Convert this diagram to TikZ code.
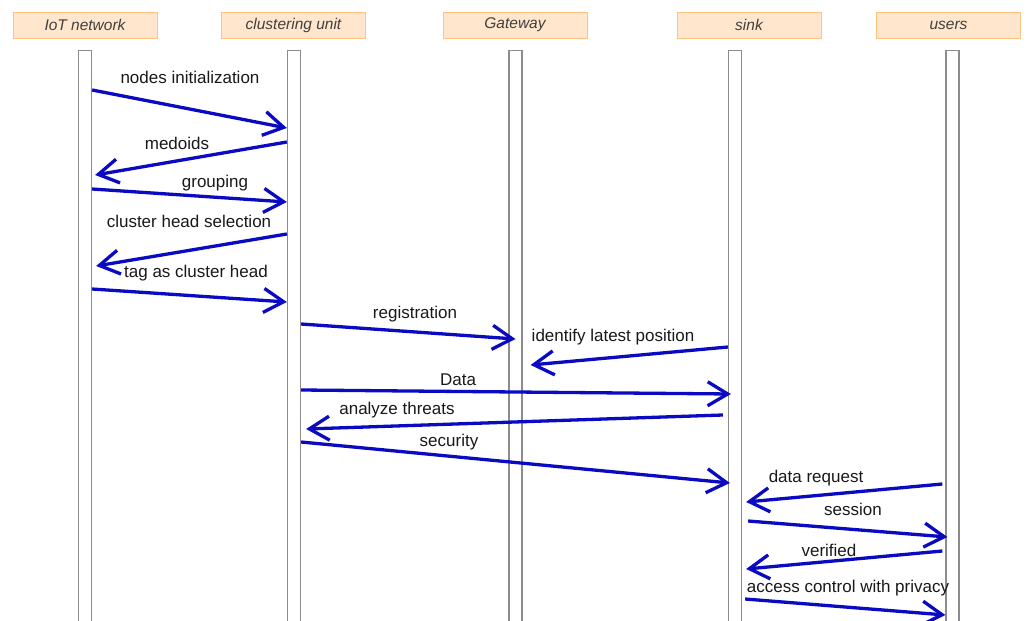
\documentclass[tikz,border=0pt]{standalone}
\usepackage{fontspec}
\setmainfont{Liberation Sans}
\usetikzlibrary{arrows.meta}
\definecolor{headfill}{HTML}{FFE6CC}
\definecolor{headdraw}{HTML}{FFC27F}
\definecolor{msgblue}{HTML}{0A0AC2}
\tikzstyle{header} = [rectangle, minimum width=144pt, minimum height=26pt, text centered, draw=headdraw, line width=1pt, fill=headfill, text=black!75, font=\fontsize{15.5}{18}\selectfont\itshape]
\tikzstyle{lifeline} = [rectangle, anchor=north, minimum width=13pt, minimum height=600pt, draw=black!45, line width=1.3pt, fill=white]
\tikzstyle{msg} = [inner sep=0pt, text=black!90, font=\fontsize{17}{20}\selectfont]
\tikzstyle{arrow} = [line width=3.3pt, draw=msgblue, -{Straight Barb[length=20pt, width=24pt, line width=3.3pt]}]

\begin{document}
\begin{tikzpicture}[x=1pt, y=-1pt]
    \path[fill=white, use as bounding box] (0,0) rectangle (1028,621);

    \node (iot) [header] at (85,25) {IoT network};
    \node (clus) [header] at (293.5,25) {clustering unit};
    \node (gate) [header] at (515,25) {Gateway};
    \node (sink) [header] at (749,25) {sink};
    \node (users) [header] at (948.5,25) {users};

    \node (iotline) [lifeline] at (85,50) {};
    \node (clusline) [lifeline] at (294,50) {};
    \node (gateline) [lifeline] at (515.5,50) {};
    \node (sinkline) [lifeline] at (735,50) {};
    \node (usersline) [lifeline] at (952.5,50) {};

    \node (init) [msg] at (190,77) {nodes initialization};
    \node (medoids) [msg] at (177,143) {medoids};
    \node (grouping) [msg] at (215,183) {grouping};
    \node (chsel) [msg] at (189,221) {cluster head selection};
    \node (tagch) [msg] at (196,273) {tag as cluster head};
    \node (regist) [msg] at (415,314) {registration};
    \node (identify) [msg] at (613,337) {identify latest position};
    \node (data) [msg] at (458,380) {Data};
    \node (threats) [msg] at (397,410) {analyze threats};
    \node (security) [msg] at (449,442) {security};
    \node (request) [msg] at (816,478) {data request};
    \node (session) [msg] at (853,509) {session};
    \node (verified) [msg] at (829,550) {verified};
    \node (access) [msg] at (848,588) {access control with privacy};

    \draw [arrow] (iotline.east |- 0,90) -- (clusline.west |- 0,128);
    \draw [arrow] (clusline.west |- 0,142) -- ([xshift=3pt]iotline.east |- 0,175);
    \draw [arrow] (iotline.east |- 0,189) -- (clusline.west |- 0,202);
    \draw [arrow] (clusline.west |- 0,234) -- ([xshift=4pt]iotline.east |- 0,266);
    \draw [arrow] (iotline.east |- 0,289) -- (clusline.west |- 0,302);
    \draw [arrow] (clusline.east |- 0,324) -- (gateline |- 0,339);
    \draw [arrow] (sinkline.west |- 0,347) -- ([xshift=8pt]gateline.east |- 0,365);
    \draw [arrow] (clusline.east |- 0,390) -- ([xshift=3pt]sinkline.west |- 0,394);
    \draw [arrow] ([xshift=-5pt]sinkline.west |- 0,415) -- ([xshift=5pt]clusline.east |- 0,429);
    \draw [arrow] (clusline.east |- 0,442) -- ([xshift=2pt]sinkline.west |- 0,483);
    \draw [arrow] ([xshift=-3pt]usersline.west |- 0,484) -- ([xshift=4pt]sinkline.east |- 0,502);
    \draw [arrow] ([xshift=6pt]sinkline.east |- 0,521) -- ([xshift=2pt]usersline.west |- 0,537);
    \draw [arrow] ([xshift=-3pt]usersline.west |- 0,551) -- ([xshift=4pt]sinkline.east |- 0,569);
    \draw [arrow] ([xshift=3pt]sinkline.east |- 0,599) -- (usersline.west |- 0,615);

\end{tikzpicture}
\end{document}
